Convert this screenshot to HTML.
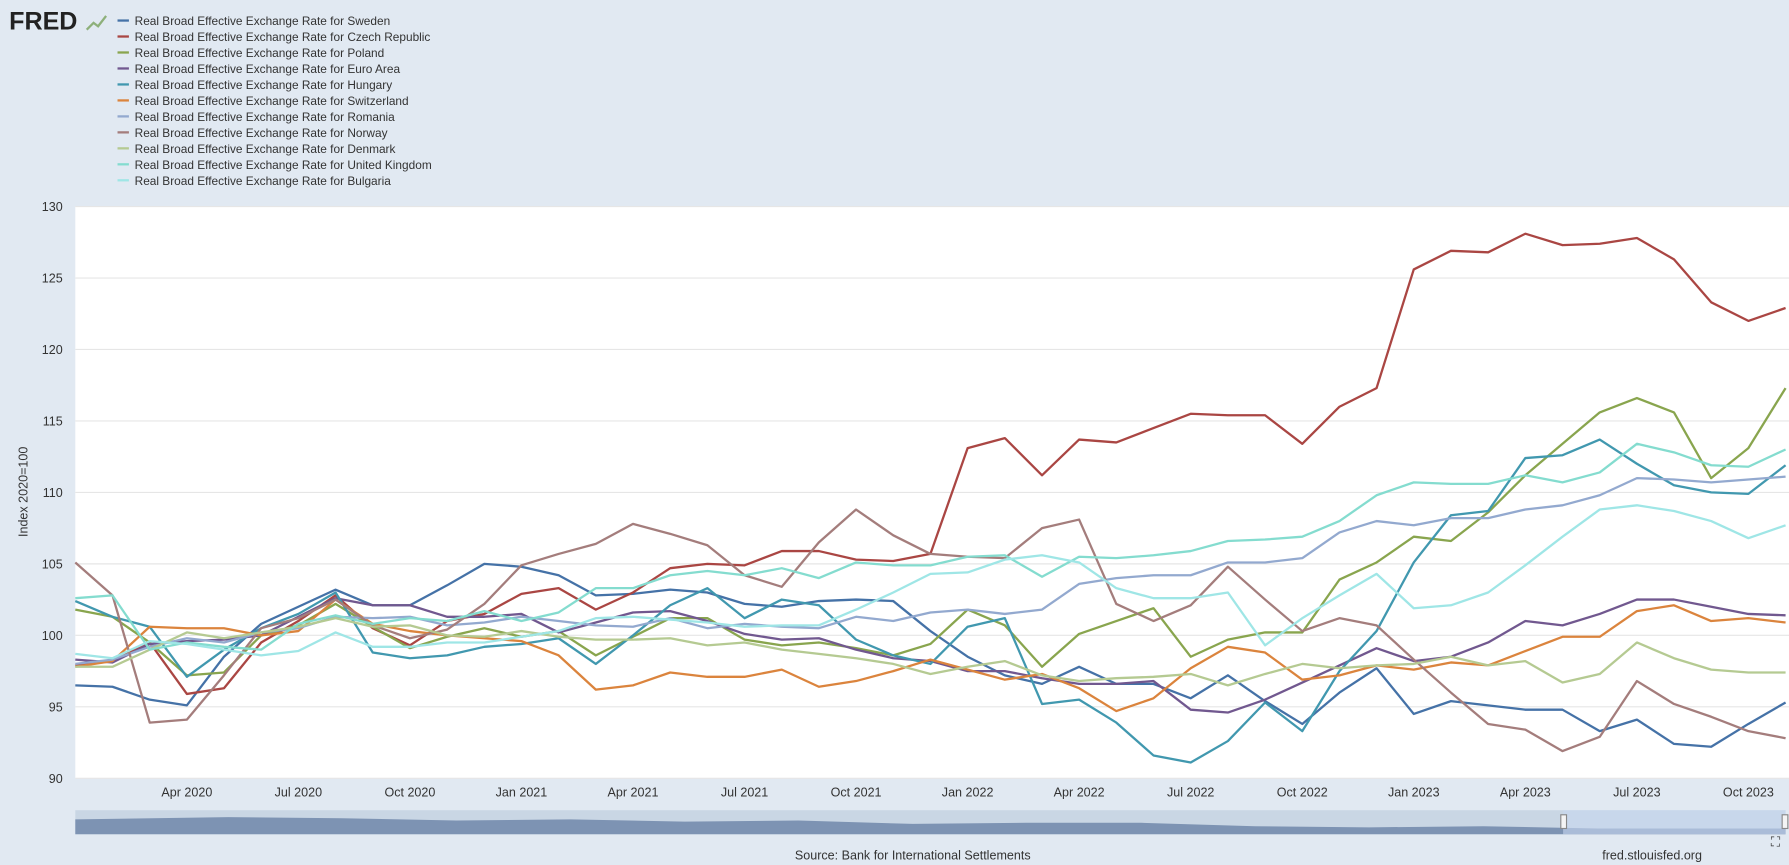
<!DOCTYPE html>
<html><head><meta charset="utf-8">
<style>
body{margin:0;width:1789px;height:865px;background:#e1e9f2;font-family:"Liberation Sans",sans-serif;overflow:hidden}
svg{position:absolute;left:0;top:0}
</style></head><body>
<svg id="chart" width="1789" height="865" viewBox="0 0 1568 758" preserveAspectRatio="none">
<rect x="0" y="0" width="1568" height="758" fill="#e1e9f2"/>
<g>
<text x="8" y="26" font-size="22" font-weight="bold" fill="#222" font-family="Liberation Sans,sans-serif">FRED</text>
<path d="M76 26 L82 20 L86 23 L93 14" stroke="#8db07a" stroke-width="2" fill="none"/>
</g>
<g id="legend"></g>
<rect x="66" y="181" width="1502" height="501" fill="#fff"/>
<g id="grid"></g>
<g id="xlabels"></g>
<g id="series"></g>
<text x="24" y="431" font-size="11" fill="#333" transform="rotate(-90 24 431)" text-anchor="middle">Index 2020=100</text>
<g>
<rect x="66" y="710" width="1499" height="21" fill="#c9d6e4"/>
<path d="M66 718 L200 716 L300 717 L400 719 L500 718 L600 720 L700 719 L800 722 L900 721 L1000 721 L1100 724 L1200 725 L1300 724 L1400 726 L1565 726 L1565 731 L66 731 Z" fill="#7d93b3"/>
<rect x="1370" y="710" width="195" height="21" fill="rgba(200,215,240,0.6)"/>
<rect x="1368" y="714" width="5" height="12" fill="#f4f4f4" stroke="#888"/>
<rect x="1562" y="714" width="5" height="12" fill="#f4f4f4" stroke="#888"/>
</g>
<text x="800" y="753" font-size="11" fill="#333" text-anchor="middle">Source: Bank for International Settlements</text>
<text x="1448" y="753" font-size="11" fill="#333" text-anchor="middle">fred.stlouisfed.org</text>
<text x="1552" y="742" font-size="12" fill="#333">⛶</text>
</svg>
<script>
const yTicks=[90,95,100,105,110,115,120,125,130];
const xTickLabels=["Apr 2020","Jul 2020","Oct 2020","Jan 2021","Apr 2021","Jul 2021","Oct 2021","Jan 2022","Apr 2022","Jul 2022","Oct 2022","Jan 2023","Apr 2023","Jul 2023","Oct 2023"];
const xTickIndex=[3,6,9,12,15,18,21,24,27,30,33,36,39,42,45];
const seriesNames=["Sweden","Czech Republic","Poland","Euro Area","Hungary","Switzerland","Romania","Norway","Denmark","United Kingdom","Bulgaria"];
const seriesColors=["#4572a7","#aa4643","#89a54e","#71588f","#4198af","#db843d","#93a9cf","#a47d7c","#b5ca92","#84dccf","#9fe6e6"];
const sweden=[96.5,96.4,95.5,95.1,98.5,100.8,102.0,103.2,102.1,102.1,103.5,105.0,104.8,104.2,102.8,102.9,103.2,103.0,102.2,102.0,102.4,102.5,102.4,100.3,98.5,97.2,96.6,97.8,96.6,96.6,95.6,97.2,95.4,93.8,96.0,97.7,94.5,95.4,95.1,94.8,94.8,93.3,94.1,92.4,92.2,93.8,95.3];
const czech=[97.9,98.2,99.5,95.9,96.3,99.5,101.0,102.8,100.5,99.3,101.0,101.5,102.9,103.3,101.8,103.0,104.7,105.0,104.9,105.9,105.9,105.3,105.2,105.7,113.1,113.8,111.2,113.7,113.5,114.5,115.5,115.4,115.4,113.4,116.0,117.3,125.6,126.9,126.8,128.1,127.3,127.4,127.8,126.3,123.3,122.0,122.9];
const poland=[101.8,101.3,99.5,97.2,97.4,100.0,100.7,102.2,100.6,99.1,99.9,100.5,99.9,100.3,98.6,99.9,101.2,101.2,99.7,99.3,99.5,99.1,98.6,99.4,101.8,100.7,97.8,100.1,101.0,101.9,98.5,99.7,100.2,100.2,103.9,105.1,106.9,106.6,108.6,111.2,113.4,115.6,116.6,115.6,111.0,113.1,117.3];
const euroArea=[98.3,98.1,99.4,99.6,99.7,100.0,101.3,102.6,102.1,102.1,101.3,101.3,101.5,100.2,100.9,101.6,101.7,101.0,100.1,99.7,99.8,99.0,98.4,98.2,97.5,97.5,97.0,96.6,96.6,96.8,94.8,94.6,95.5,96.7,97.9,99.1,98.2,98.5,99.5,101.0,100.7,101.5,102.5,102.5,102.0,101.5,101.4];
const hungary=[102.4,101.3,100.6,97.1,99.0,100.5,101.5,103.0,98.8,98.4,98.6,99.2,99.4,99.8,98.0,100.0,102.1,103.3,101.2,102.5,102.1,99.7,98.6,98.0,100.6,101.2,95.2,95.5,93.9,91.6,91.1,92.6,95.3,93.3,97.5,100.3,105.1,108.4,108.7,112.4,112.6,113.7,112.0,110.5,110.0,109.9,111.9];
const switzerland=[97.8,98.2,100.6,100.5,100.5,100.0,100.3,102.5,100.8,100.3,100.0,99.8,99.6,98.6,96.2,96.5,97.4,97.1,97.1,97.6,96.4,96.8,97.5,98.3,97.6,96.9,97.3,96.3,94.7,95.6,97.7,99.2,98.8,96.9,97.2,97.9,97.6,98.1,97.9,98.9,99.9,99.9,101.7,102.1,101.0,101.2,100.9];
const romania=[98.0,98.3,99.2,99.8,99.5,100.2,100.5,101.3,101.2,101.3,100.7,100.9,101.3,101.0,100.7,100.6,101.2,100.5,100.8,100.6,100.5,101.3,101.0,101.6,101.8,101.5,101.8,103.6,104.0,104.2,104.2,105.1,105.1,105.4,107.2,108.0,107.7,108.2,108.2,108.8,109.1,109.8,111.0,110.9,110.7,110.9,111.1];
const norway=[105.1,102.8,93.9,94.1,97.2,100.5,101.2,102.5,100.7,99.8,100.4,102.2,104.9,105.7,106.4,107.8,107.1,106.3,104.2,103.4,106.5,108.8,107.0,105.7,105.5,105.4,107.5,108.1,102.2,101.0,102.1,104.8,102.5,100.3,101.2,100.7,98.3,96.0,93.8,93.4,91.9,92.9,96.8,95.2,94.3,93.3,92.8];
const denmark=[97.8,97.8,99.0,100.2,99.8,100.2,100.6,101.2,100.6,100.7,100.0,99.9,100.3,99.9,99.7,99.7,99.8,99.3,99.5,99.0,98.7,98.4,98.0,97.3,97.8,98.2,97.2,96.8,97.0,97.1,97.3,96.5,97.3,98.0,97.7,97.9,98.0,98.5,97.9,98.2,96.7,97.3,99.5,98.4,97.6,97.4,97.4];
const unitedKingdom=[102.6,102.8,99.0,99.5,99.2,99.0,100.8,101.4,100.8,101.2,101.0,101.7,101.0,101.6,103.3,103.3,104.2,104.5,104.2,104.7,104.0,105.1,104.9,104.9,105.5,105.6,104.1,105.5,105.4,105.6,105.9,106.6,106.7,106.9,108.0,109.8,110.7,110.6,110.6,111.2,110.7,111.4,113.4,112.8,111.9,111.8,113.0];
const bulgaria=[98.7,98.4,99.6,99.4,99.0,98.6,98.9,100.2,99.2,99.2,99.5,99.5,99.9,100.3,101.2,101.3,101.1,100.9,100.6,100.7,100.7,101.8,103.0,104.3,104.4,105.3,105.6,105.1,103.3,102.6,102.6,103.0,99.3,101.2,102.8,104.3,101.9,102.1,103.0,104.9,106.9,108.8,109.1,108.7,108.0,106.8,107.7];
const allSeries=[sweden,czech,poland,euroArea,hungary,switzerland,romania,norway,denmark,unitedKingdom,bulgaria];

const NS="http://www.w3.org/2000/svg";
const X0=66,X1=1565,Y0=682,Y1=181,VMIN=90,VMAX=130,N=47;
function xs(i){return X0+i*(X1-X0)/(N-1);}
function ys(v){return Y0-(v-VMIN)*(Y0-Y1)/(VMAX-VMIN);}
function mk(tag,attrs,parent){const e=document.createElementNS(NS,tag);for(const k in attrs)e.setAttribute(k,attrs[k]);parent.appendChild(e);return e;}

const grid=document.getElementById('grid');
yTicks.forEach(t=>{
  const l=mk('line',{x1:X0,x2:1568,y1:ys(t),y2:ys(t),stroke:'#e6e6e6','stroke-width':1},grid);
  
  
  const tx=mk('text',{x:55,y:ys(t)+4,'font-size':11,fill:'#333','text-anchor':'end'},grid);
  tx.textContent=t;
  
  
});
const xl=document.getElementById('xlabels');
xTickLabels.forEach((lab,k)=>{
  const tx=mk('text',{x:xs(xTickIndex[k]),y:698,'font-size':11,fill:'#333','text-anchor':'middle'},xl);
  tx.textContent=lab;
  
  
});
const sg=document.getElementById('series');
allSeries.forEach((arr,s)=>{
  const d=arr.map((v,i)=>(i?'L':'M')+xs(i).toFixed(1)+' '+ys(v).toFixed(1)).join(' ');
  const p=mk('path',{d:d,fill:'none',stroke:seriesColors[s],'stroke-width':2,'stroke-linejoin':'round'},sg);
  
  
});
const lg=document.getElementById('legend');
seriesNames.forEach((n,s)=>{
  const y=18+s*14;
  const g=mk('g',{},lg);
  
  
  mk('line',{x1:103,x2:113,y1:y,y2:y,stroke:seriesColors[s],'stroke-width':2},g);
  const t=mk('text',{x:118,y:y+4,'font-size':10.4,fill:'#333'},g);
  t.textContent='Real Broad Effective Exchange Rate for '+n;
});
</script>
</body></html>
